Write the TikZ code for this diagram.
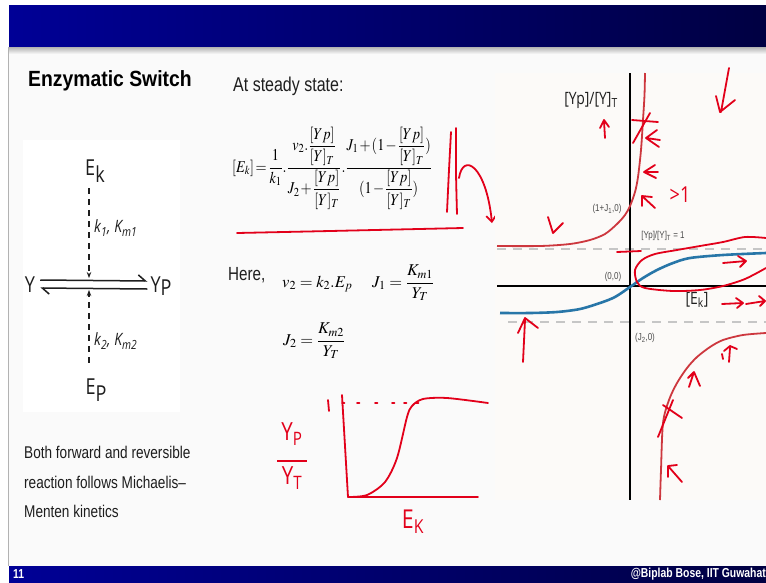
\documentclass[tikz,border=0pt]{standalone}
\usepackage{mathptmx}
\usepackage{amsmath}
\usepackage{graphicx}
\usepackage[no-math]{fontspec}
\setmainfont{Liberation Sans}
\newfontfamily\narrowfont[FakeStretch=0.8]{Liberation Sans}
\newfontfamily\titlefont[FakeStretch=0.88]{Liberation Sans}
\newfontfamily\schemefont[FakeStretch=0.82]{Open Sans}
\usetikzlibrary{arrows.meta,positioning,calc}
\definecolor{bannerL}{RGB}{0,0,150}
\definecolor{bannerR}{RGB}{0,0,66}
\definecolor{slidebg}{RGB}{250,250,250}
\definecolor{plotbg}{RGB}{252,250,248}
\definecolor{hred}{RGB}{226,0,26}
\definecolor{pred}{RGB}{205,55,62}
\definecolor{pblue}{RGB}{40,118,168}
\definecolor{guide}{RGB}{198,198,198}
\definecolor{ink}{RGB}{30,30,30}
\tikzset{
  title/.style={font=\titlefont\bfseries\fontsize{22}{24}\selectfont,anchor=west,inner sep=0},
  body/.style={font=\narrowfont\fontsize{20}{24}\selectfont,anchor=west,inner sep=0,text=ink},
  eqn/.style={font=\fontsize{16.5}{19}\selectfont,anchor=west,inner sep=0},
  species/.style={font=\schemefont\fontsize{22}{22}\selectfont,inner sep=0,text=ink},
  rate/.style={font=\schemefont\itshape\fontsize{17}{17}\selectfont,anchor=west,inner sep=0,text=ink},
  catalysis/.style={ink,line width=1.3pt,dash pattern=on 6pt off 5pt,-{Stealth[length=6pt,width=4.5pt]}},
  react/.style={ink,line width=1.5pt},
  axisline/.style={black,line width=2pt},
  guideline/.style={guide,line width=1.6pt,dash pattern=on 9pt off 7pt},
  redcurve/.style={pred,line width=1.8pt},
  bluecurve/.style={pblue,line width=2.6pt},
  tick/.style={font=\narrowfont\fontsize{10}{10}\selectfont,text=black!70,inner sep=0},
  axlabel/.style={font=\schemefont\fontsize{17}{17}\selectfont,text=ink,inner sep=0},
  hand/.style={hred,line width=1.8pt,line cap=round,line join=round},
  handtext/.style={text=hred,font=\schemefont\fontsize{18}{18}\selectfont,inner sep=0},
}
\begin{document}
\begin{tikzpicture}[x=1pt,y=-1pt]
\useasboundingbox (0,0) rectangle (766,582);
% slide frame
\fill[white] (0,0) rectangle (766,582);
\fill[slidebg] (9,47) rectangle (766,566);
\shade[left color=bannerL,right color=bannerR] (9,5) rectangle (766,47);
\shade[top color=gray!60,bottom color=slidebg] (9,47) rectangle (766,54);
\draw[gray!60,line width=0.8pt] (8,47) -- (8,566);
\shade[left color=bannerL,right color=bannerR] (9,566) rectangle (766,582);
\node[anchor=west,font=\narrowfont\bfseries\fontsize{13}{13}\selectfont,text=white,inner sep=0] (pagenum) at (13,574) {11};
\node[anchor=east,font=\narrowfont\bfseries\fontsize{13}{13}\selectfont,text=white,inner sep=0] (credit) at (766,574) {@Biplab Bose, IIT Guwahat};

% left panel: reaction scheme
\node[title] (heading) at (28,81) {Enzymatic Switch};
\fill[white] (23,140) rectangle (180,412);
\node[species] (ek) at (95,171) {E\raisebox{-0.3em}{k}};
\node[species] (y) at (30,285) {Y};
\node[species] (yp) at (161,286) {Y\raisebox{-0.12em}{P}};
\node[species] (ep) at (96,390) {E\raisebox{-0.3em}{P}};
\coordinate (fwdmid) at (89,278);
\coordinate (revmid) at (89,290);
\draw[react,-{Straight Barb[harpoon,length=7pt,width=12pt]}] ([xshift=5pt,yshift=5pt]y.east) -- ([xshift=-3pt,yshift=5pt]yp.west);
\draw[react,-{Straight Barb[harpoon,length=7pt,width=12pt]}] ([xshift=-3pt,yshift=-3pt]yp.west) -- ([xshift=5pt,yshift=-3pt]y.east);
\draw[catalysis] ([xshift=-6pt,yshift=-6pt]ek.south) -- (fwdmid);
\draw[catalysis] ([xshift=-7pt,yshift=16pt]ep.north) -- (revmid);
\node[rate] (k1) at (94,228) {k\textsubscript{1}, K\textsubscript{m1}};
\node[rate] (k2) at (94,341) {k\textsubscript{2}, K\textsubscript{m2}};
\node[body,font=\narrowfont\fontsize{17}{29.5}\selectfont,align=left,anchor=north west] (note) at (24,446) {Both forward and reversible\\reaction follows Michaelis–\\Menten kinetics};

% middle panel: steady state
\node[body] (steady) at (233,86) {At steady state:};
\node[eqn,font=\fontsize{15}{18}\selectfont] (ekeq) at (232,168) {\scalebox{0.95}[1.1]{\thickmuskip=2mu\medmuskip=1.5mu$[E_k]=\dfrac{1}{k_1}.\dfrac{v_2.\dfrac{[Yp]}{[Y]_T}}{J_2+\dfrac{[Yp]}{[Y]_T}}.\dfrac{J_1+(1-\dfrac{[Yp]}{[Y]_T})}{(1-\dfrac{[Yp]}{[Y]_T})}$}};
\node[body,font=\narrowfont\fontsize{19}{22}\selectfont] (here) at (228,275) {Here,};
\node[eqn] (v2eq) at (282,284) {$v_2=k_2.E_p$};
\node[eqn] (j1eq) at (372,283) {$J_1=\dfrac{K_{m1}}{Y_T}$};
\node[eqn] (j2eq) at (283,341) {$J_2=\dfrac{K_{m2}}{Y_T}$};

% handwriting on the equation
\draw[hand] plot[smooth] coordinates {(451,132) (449,170) (447,212)};
\draw[hand] plot[smooth] coordinates {(456,128) (456,172) (457,214)};
\draw[hand] plot[smooth] coordinates {(237,233) (330,231) (463,228)};
\coordinate (hookstart) at (459,178);
\coordinate (hookend) at (492,223);
\draw[hand,-{Straight Barb[length=6pt,width=10pt]}] (hookstart) .. controls (463,152) and (486,165) .. (hookend);

% sketched response curve
\coordinate (sko) at (348,497);
\draw[hand] (342,395) -- (sko) -- (478,497);
\draw[hand] plot[smooth] coordinates {(348,497) (367,495) (385,482) (397,458) (407,417) (412,406) (423,399) (447,398) (488,403)};
\draw[hand] (328,400) -- (329,411);
\foreach \dx in {342,357,375,392,404,416}
  \draw[hand] (\dx,403) -- ++(2.5,0);
\node[handtext,align=center,font=\schemefont\fontsize{25}{25}\selectfont] (skylab) at (292,456) {Y\textsubscript{P}\\[-4pt]\rule{30pt}{1.8pt}\\[-2pt]Y\textsubscript{T}};
\node[handtext,font=\schemefont\fontsize{26}{26}\selectfont] (skxlab) at (413,522) {E\textsubscript{K}};

% right panel: phase plot
\fill[plotbg] (495,73) rectangle (766,500);
\draw[guideline] (497,249) -- (766,249);
\draw[guideline] (508,322) -- (766,322);
\draw[axisline] (630,73) -- (630,500);
\draw[axisline] (497,286) -- (766,286);
\node[axlabel] (ylab) at (591,100) {[Yp]/[Y]\textsubscript{T}};
\node[axlabel] (xlab) at (697,300) {[E\textsubscript{k}]};
\node[tick] (p1) at (607,209) {(1+J\textsubscript{1},0)};
\node[tick] (p0) at (613,277) {(0,0)};
\node[tick] (p2) at (645,338) {(J\textsubscript{2},0)};
\node[tick] (pone) at (663,236) {[Yp]/[Y]\textsubscript{T} = 1};
\draw[redcurve] plot[smooth] coordinates {(497,246) (540,246) (570,244) (590,240) (605,234) (617,224) (625,215) (630,206) (635,192) (638,177) (641,150) (643,120) (644.5,95) (645,73)};
\draw[bluecurve] plot[smooth] coordinates {(500,313) (530,313) (557,312) (580,309) (600,303) (615,297) (630,287) (643,278) (657,270) (673,263) (690,258) (723,255) (766,253)};
\draw[redcurve] plot[smooth] coordinates {(660,500) (661,470) (663,423) (669,400) (677,383) (687,368) (697,357) (710,347) (723,340) (743,335) (766,333)};

% handwriting on the phase plot
\draw[hand] (632,120) -- (658,122);
\draw[hand] (633,143) -- (650,113);
\draw[hand] (657,130) -- (646,138) -- (659,147) (646,138) -- (660,140);
\draw[hand] (655,165) -- (644,172) -- (656,178) (644,172) -- (658,172);
\draw[hand] (642,206) -- (642,196) -- (652,197) (642,196) -- (655,208);
\node[handtext,font=\schemefont\fontsize{22}{22}\selectfont] (gtone) at (680,195) {>1};
\draw[hand] (605,138) -- (604,121) (600,128) -- (604,120) -- (609,127);
\draw[hand] (729,68) -- (721,112) (716,96) -- (720,112) -- (735,100);
\draw[hand] (548,217) -- (553,233) -- (563,223);
\draw[hand] (617,252) -- (641,251);
\draw[hand] plot[smooth] coordinates {(766,238) (745,237) (723,242) (700,246) (677,250) (655,254) (642,260) (635,270) (637,282) (645,288) (673,291) (700,290) (723,286) (745,279) (766,268)};
\draw[hand] (723,263) -- (746,261) (738,256) -- (746,261) -- (740,267);
\draw[hand] (722,304) -- (743,303) (736,298) -- (743,303) -- (737,308);
\draw[hand] (746,304) -- (765,301) (759,296) -- (765,301) -- (760,306);
\draw[hand] (523,362) -- (525,320) (518,333) -- (525,318) -- (538,328);
\draw[hand] (663,405) -- (682,418) (658,437) -- (673,400);
\draw[hand] (689,387) -- (694,372) -- (700,386) (688,378) -- (694,372);
\draw[hand] (730,348) -- (729,362) (724,351) -- (730,346) -- (737,349) (722,354) -- (723,359);
\draw[hand] (668,477) -- (668,466) -- (677,465) (668,466) -- (682,482);
\end{tikzpicture}
\end{document}
